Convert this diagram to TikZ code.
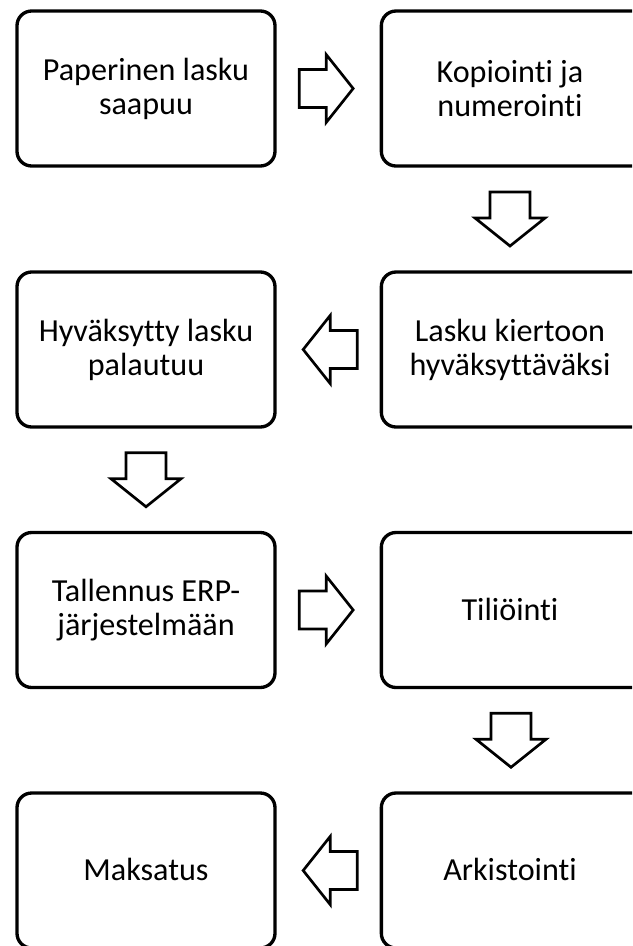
\documentclass[tikz,border=0pt]{standalone}
\usepackage{fontspec}
\setmainfont{Carlito}[Ligatures=NoCommon, RawFeature={-liga;-clig;-calt;-dlig}]
\usetikzlibrary{calc}
\tikzset{
  stepbox/.style={draw=black, line width=2.5pt, rounded corners=11pt, fill=white,
    minimum width=193.5pt, minimum height=116.25pt},
  rightbox/.style={stepbox, minimum width=199pt},
  steptext/.style={align=center, inner sep=0pt,
    font=\fontsize{24.1pt}{25.5pt}\selectfont},
  arrowline/.style={draw=black, line width=2pt, fill=white, miter limit=10},
  rarrowpic/.pic={\draw[arrowline] (-27,-19) -- (0,-19) -- (0,-34) -- (27,0) -- (0,34) -- (0,19) -- (-27,19) -- cycle;},
  larrowpic/.pic={\draw[arrowline] (27,-19) -- (0,-19) -- (0,-34) -- (-27,0) -- (0,34) -- (0,19) -- (27,19) -- cycle;},
  darrowpic/.pic={\draw[arrowline] (-20,-27) -- (20,-27) -- (20,-1) -- (35,-1) -- (0,27) -- (-35,-1) -- (-20,-1) -- cycle;},
}
\begin{document}
\begin{tikzpicture}[x=0.75pt,y=-0.75pt]
\useasboundingbox (0,0) rectangle (632,946);
\clip (0,0) rectangle (632,946);
% boxes
\node[stepbox] (p1) at (146,88.5) {};
\node[rightbox] (p2) at (514,88.5) {};
\node[rightbox] (p3) at (514,349.5) {};
\node[stepbox] (p4) at (146,349.5) {};
\node[stepbox] (p5) at (146,610) {};
\node[rightbox] (p6) at (514,610) {};
\node[rightbox] (p7) at (514,870.5) {};
\node[stepbox] (p8) at (146,870.5) {};
% texts
\node[steptext] (t1) at (p1.center) {Paperinen lasku\\saapuu};
\node[steptext] (t2) at ($(p2.center)+(-4,0)$) {Kopiointi ja\\numerointi};
\node[steptext] (t3) at ($(p3.center)+(-4,0)$) {Lasku kiertoon\\hyväksyttäväksi};
\node[steptext] (t4) at (p4.center) {Hyväksytty lasku\\palautuu};
\node[steptext] (t5) at (p5.center) {Tallennus ERP-\\järjestelmään};
\node[steptext] (t6) at ($(p6.center)+(-4,-1)$) {Tiliöinti};
\node[steptext] (t7) at ($(p7.center)+(-4,-1)$) {Arkistointi};
\node[steptext] (t8) at ($(p8.center)+(0,-1)$) {Maksatus};
% block arrows
\pic at ($(p1.east)!0.5!(p2.west)+(-2,0)$) {rarrowpic};
\pic at ($(p2.south)!0.5!(p3.north)+(-4,0)$) {darrowpic};
\pic at ($(p3.west)!0.5!(p4.east)+(2,0)$) {larrowpic};
\pic at ($(p4.south)!0.5!(p5.north)$) {darrowpic};
\pic at ($(p5.east)!0.5!(p6.west)+(-2,0)$) {rarrowpic};
\pic at ($(p6.south)!0.5!(p7.north)+(-3,0)$) {darrowpic};
\pic at ($(p7.west)!0.5!(p8.east)+(2,0)$) {larrowpic};
\end{tikzpicture}
\end{document}
